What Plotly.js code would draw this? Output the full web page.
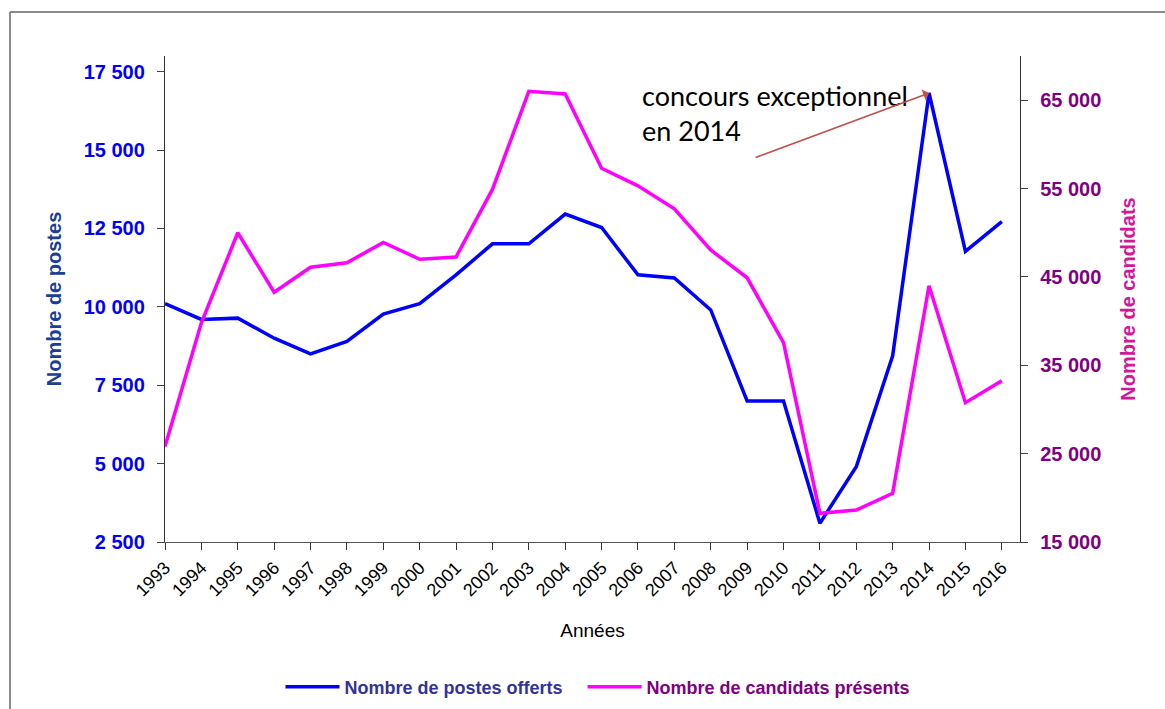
<!DOCTYPE html>
<html>
<head>
<meta charset="utf-8">
<script src="https://cdn.plot.ly/plotly-3.0.1.min.js"></script>
<style>html,body{margin:0;padding:0;background:#fff;}#chart{width:1165px;height:709px;}</style>
</head>
<body>
<div id="chart"></div>
<script>
const years = [1993,1994,1995,1996,1997,1998,1999,2000,2001,2002,2003,2004,2005,2006,2007,2008,2009,2010,2011,2012,2013,2014,2015,2016];
const postes = [10100,9600,9640,9000,8500,8900,9770,10100,11020,12010,12010,12960,12530,11020,10920,9900,7000,7000,3100,4900,8440,16820,11770,12720];
const candidats = [25800,39800,50000,43270,46100,46600,48900,47000,47260,54900,66000,65700,57300,55300,52700,48050,44900,37560,18250,18620,20500,44000,30770,33260];
const seriesNames = ['Nombre de postes offerts','Nombre de candidats présents'];
const leftTicks = [2500,5000,7500,10000,12500,15000,17500];
const rightTicks = [15000,25000,35000,45000,55000,65000];
const fmt = v => String(v).replace(/\B(?=(\d{3})+(?!\d))/g, ' ');
const annotationText = 'concours exceptionnel<br>en 2014';

const L = 165, R = 1020, T = 56, B = 542;
const W = 1165, H = 709;
const px2x = p => (p - L) / (R - L);
const px2y = p => (B - p) / (B - T);

const traces = [
  {x: years, y: postes, type: 'scatter', mode: 'lines', name: '<span style="color:#333399">' + seriesNames[0] + '\u00A0\u00A0\u00A0</span>',
   line: {color: '#0000FF', width: 3.5}, yaxis: 'y'},
  {x: years, y: candidats, type: 'scatter', mode: 'lines', name: '<span style="color:#800080">' + seriesNames[1] + '</span>',
   line: {color: '#FF00FF', width: 3.5}, yaxis: 'y2'}
];

const layout = {
  width: W, height: H,
  margin: {l: L, r: W - R, t: T, b: H - B, autoexpand: false},
  paper_bgcolor: '#fff', plot_bgcolor: '#fff',
  font: {family: '"Liberation Sans", Arial, sans-serif'},
  showlegend: true,
  legend: {orientation: 'h', x: px2x(598), xanchor: 'center', y: px2y(687), yanchor: 'middle',
           itemwidth: 54,
           font: {size: 18, color: '#333399', family: '"Liberation Sans", Arial, sans-serif', weight: 'bold'}},
  xaxis: {
    range: [1993, 2016.5], tickvals: years, ticktext: years.map(String), tickangle: -45, automargin: false,
    showgrid: false, zeroline: false, showline: true, linecolor: '#555', linewidth: 1.2,
    ticks: 'outside', ticklen: 7, tickcolor: '#333',
    tickfont: {size: 18, color: '#000'},
    title: {text: 'Années', font: {size: 19, color: '#000'}, standoff: 24}
  },
  yaxis: {
    range: [2500, 18000], tickvals: leftTicks, ticktext: leftTicks.map(fmt), automargin: false,
    showgrid: false, zeroline: false, showline: true, linecolor: '#333', linewidth: 1.2,
    ticks: 'outside', ticklen: 7, tickcolor: '#444', ticklabelstandoff: 8,
    tickfont: {size: 20, color: '#0000FF', weight: 'bold'},
    title: {text: 'Nombre de postes', font: {size: 20, color: '#1c3f94', weight: 'bold'}, standoff: 16}
  },
  yaxis2: {
    overlaying: 'y', side: 'right', range: [15000, 70000], tickvals: rightTicks, ticktext: rightTicks.map(fmt), automargin: false,
    showgrid: false, zeroline: false, showline: true, linecolor: '#333', linewidth: 1.2,
    ticks: 'outside', ticklen: 7, tickcolor: '#444', ticklabelstandoff: 8,
    tickfont: {size: 20, color: '#800080', weight: 'bold'},
    title: {text: 'Nombre de candidats', font: {size: 20, color: '#D4169B', weight: 'bold'}, standoff: 20}
  },
  annotations: [
    {xref: 'paper', yref: 'paper', x: px2x(640), y: px2y(77), xanchor: 'left', yanchor: 'top', align: 'left',
     text: annotationText, showarrow: false,
     font: {family: 'Lato, "Open Sans", sans-serif', size: 27, color: '#000'}},
    {xref: 'x', yref: 'y', x: years[21], y: postes[21], text: '', showarrow: true,
     ax: -175, ay: 65, arrowcolor: '#C0504D', arrowwidth: 1.6, arrowhead: 1, arrowsize: 1.2}
  ],
  shapes: [
    {type: 'line', xref: 'paper', yref: 'paper', x0: px2x(10), x1: px2x(1165), y0: px2y(12), y1: px2y(12), line: {color: '#666', width: 1.5}},
    {type: 'line', xref: 'paper', yref: 'paper', x0: px2x(10), x1: px2x(10), y0: px2y(12), y1: px2y(712), line: {color: '#666', width: 1.5}}
  ]
};

Plotly.newPlot('chart', traces, layout, {displayModeBar: false, staticPlot: true});
</script>
</body>
</html>
